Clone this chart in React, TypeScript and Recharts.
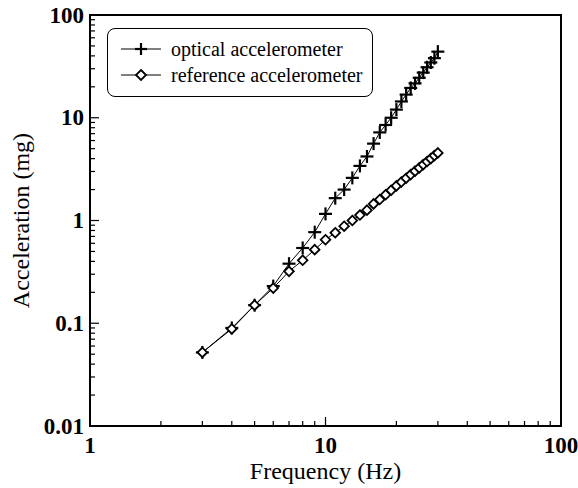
import React from 'react';
import { LineChart, Line, XAxis, YAxis, ReferenceArea } from 'recharts';

const frequency = [3, 4, 5, 6, 7, 8, 9, 10, 11, 12, 13, 14, 15, 16, 17, 18, 19, 20, 21, 22, 23, 24, 25, 26, 27, 28, 29, 30];
const optical = [0.052, 0.09, 0.15, 0.23, 0.38, 0.54, 0.77, 1.16, 1.65, 2.0, 2.6, 3.4, 4.2, 5.6, 7.2, 8.5, 10, 12, 14.4, 16.8, 19.5, 21.6, 24.5, 27.5, 31, 34.5, 38, 44];
const reference = [0.052, 0.088, 0.15, 0.22, 0.32, 0.41, 0.52, 0.65, 0.76, 0.88, 1.0, 1.13, 1.26, 1.45, 1.6, 1.78, 1.97, 2.17, 2.37, 2.58, 2.8, 3.02, 3.25, 3.5, 3.75, 4.0, 4.28, 4.55];

const xMajor = [1, 10, 100];
const xTicks = [1, 2, 3, 4, 5, 6, 7, 8, 9, 10, 20, 30, 40, 50, 60, 70, 80, 90, 100];
const yMajor = [0.01, 0.1, 1, 10, 100];
const yTicks = [
  0.01, 0.02, 0.03, 0.04, 0.05, 0.06, 0.07, 0.08, 0.09,
  0.1, 0.2, 0.3, 0.4, 0.5, 0.6, 0.7, 0.8, 0.9,
  1, 2, 3, 4, 5, 6, 7, 8, 9,
  10, 20, 30, 40, 50, 60, 70, 80, 90, 100,
];

const data = frequency.map((f, i) => ({ f, optical: optical[i], reference: reference[i] }));

const FONT = "'Liberation Serif', 'Times New Roman', 'DejaVu Serif', serif";

const CrossMark = ({ cx, cy, size = 6 }: { cx: number; cy: number; size?: number }) => (
  <g stroke="#000" strokeWidth={2.2}>
    <line x1={cx - size} y1={cy} x2={cx + size} y2={cy} />
    <line x1={cx} y1={cy - size} x2={cx} y2={cy + size} />
  </g>
);

const DiamondMark = ({ cx, cy, size = 5 }: { cx: number; cy: number; size?: number }) => (
  <path
    d={`M${cx},${cy - size}L${cx + size},${cy}L${cx},${cy + size}L${cx - size},${cy}Z`}
    fill="#fff"
    stroke="#000"
    strokeWidth={1.8}
  />
);

const XTick = (props: any) => {
  const { x, y, payload } = props;
  const major = xMajor.includes(payload.value);
  return (
    <g>
      <line x1={x} y1={y} x2={x} y2={y - (major ? 9 : 5)} stroke="#000" strokeWidth={1.2} />
      {major && (
        <text x={x} y={y + 19} textAnchor="middle" dominantBaseline="central" fontSize={23} fontWeight="bold" fill="#000" style={{ fontFamily: FONT }}>
          {payload.value}
        </text>
      )}
    </g>
  );
};

const YTick = (props: any) => {
  const { x, y, payload } = props;
  const major = yMajor.includes(payload.value);
  return (
    <g>
      <line x1={x} y1={y} x2={x + (major ? 9 : 5)} y2={y} stroke="#000" strokeWidth={1.2} />
      {major && (
        <text x={x - 6} y={y} textAnchor="end" dominantBaseline="central" fontSize={23} fontWeight="bold" fill="#000" style={{ fontFamily: FONT }}>
          {payload.value}
        </text>
      )}
    </g>
  );
};

const legendItems = [
  { name: 'optical accelerometer', mark: 'cross' },
  { name: 'reference accelerometer', mark: 'diamond' },
];

const LegendBox = () => (
  <div
    style={{
      position: 'absolute',
      left: 107,
      top: 28,
      boxSizing: 'border-box',
      width: 266,
      height: 69,
      border: '1.2px solid #000',
      borderRadius: 8,
      background: '#fff',
      padding: '7px 0 0 12px',
      fontFamily: FONT,
      fontSize: 20,
      color: '#000',
    }}
  >
    {legendItems.map((item) => (
      <div key={item.name} style={{ display: 'flex', alignItems: 'center', height: 26 }}>
        <svg width={42} height={20} style={{ marginRight: 9 }}>
          <line x1={1} y1={10} x2={41} y2={10} stroke="#000" strokeWidth={1.2} />
          {item.mark === 'cross' ? <CrossMark cx={21} cy={10} size={6} /> : <DiamondMark cx={21} cy={10} size={5} />}
        </svg>
        <span style={{ lineHeight: '20px' }}>{item.name}</span>
      </div>
    ))}
  </div>
);

export default function App() {
  return (
    <div style={{ position: 'absolute', left: 0, top: 0, width: 578, height: 488, background: '#fff', fontFamily: FONT }}>
      <LineChart width={578} height={488} data={data} margin={{ top: 15, right: 17, left: 0, bottom: 0 }}>
        <XAxis
          dataKey="f"
          type="number"
          scale="log"
          domain={[1, 100]}
          ticks={xTicks}
          interval={0}
          allowDataOverflow
          height={62}
          tickSize={0}
          tickMargin={0}
          tickLine={false}
          tick={<XTick />}
          axisLine={{ stroke: '#000', strokeWidth: 2 }}
          label={({ viewBox }: any) => (
            <text
              x={viewBox.x + viewBox.width / 2}
              y={viewBox.y + 45}
              textAnchor="middle"
              dominantBaseline="central"
              fontSize={24}
              fill="#000"
              style={{ fontFamily: FONT }}
            >
              Frequency (Hz)
            </text>
          )}
        />
        <YAxis
          type="number"
          scale="log"
          domain={[0.01, 100]}
          ticks={yTicks}
          interval={0}
          allowDataOverflow
          width={90}
          tickSize={0}
          tickMargin={0}
          tickLine={false}
          tick={<YTick />}
          axisLine={{ stroke: '#000', strokeWidth: 2 }}
          label={({ viewBox }: any) => {
            const cx = viewBox.x + 21;
            const cy = viewBox.y + viewBox.height / 2;
            return (
              <text
                x={cx}
                y={cy}
                transform={`rotate(-90 ${cx} ${cy})`}
                textAnchor="middle"
                dominantBaseline="central"
                fontSize={24}
                fill="#000"
                style={{ fontFamily: FONT }}
              >
                Acceleration (mg)
              </text>
            );
          }}
        />
        <ReferenceArea x1={1} x2={100} y1={0.01} y2={100} fill="none" stroke="#000" strokeWidth={2} ifOverflow="visible" />
        <Line
          type="linear"
          dataKey="optical"
          stroke="#000"
          strokeWidth={1}
          isAnimationActive={false}
          dot={(p: any) => <CrossMark key={`o-${p.index}`} cx={p.cx} cy={p.cy} size={6.5} />}
        />
        <Line
          type="linear"
          dataKey="reference"
          stroke="#000"
          strokeWidth={1}
          isAnimationActive={false}
          dot={(p: any) => <DiamondMark key={`r-${p.index}`} cx={p.cx} cy={p.cy} size={4.8} />}
        />
      </LineChart>
      <LegendBox />
    </div>
  );
}
